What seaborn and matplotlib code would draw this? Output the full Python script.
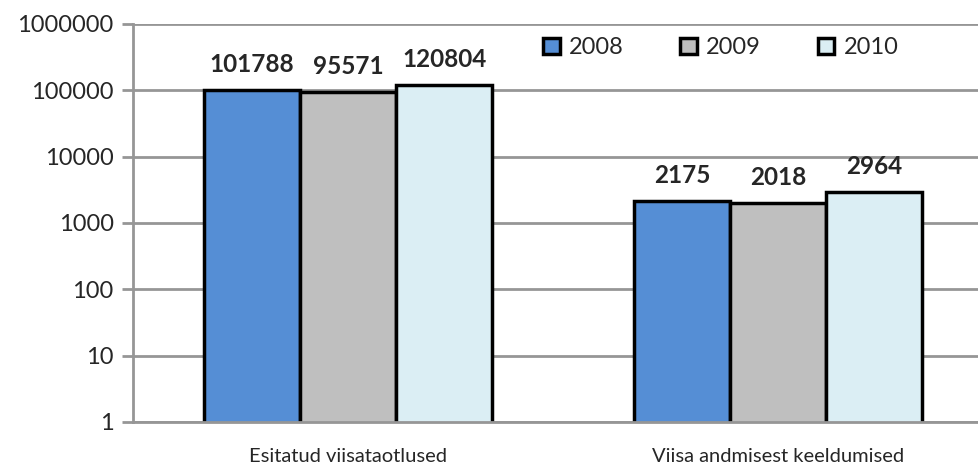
"""
Visa applications vs refusals, 2008-2010 (log scale)
"""

import pandas as pd
import seaborn as sns
import matplotlib.pyplot as plt
from matplotlib.ticker import FuncFormatter, FixedLocator

# data
CATEGORIES = ['Esitatud viisataotlused', 'Viisa andmisest keeldumised']
YEARS = ['2008', '2009', '2010']
VALUES_2008 = [101788, 2175]
VALUES_2009 = [95571, 2018]
VALUES_2010 = [120804, 2964]
COLORS = ['#558ED5', '#BFBFBF', '#DBEEF4']

DATA = pd.DataFrame({
    'category': CATEGORIES * 3,
    'year': [y for y in YEARS for _ in CATEGORIES],
    'value': VALUES_2008 + VALUES_2009 + VALUES_2010,
})

GRAY = '#969696'
sns.set_style('white')
plt.rcParams['font.family'] = ['Lato', 'DejaVu Sans']

fig = plt.figure(figsize=(9.79, 4.75), dpi=100)
# plot area runs past the right edge of the picture, as in the reference
ax = fig.add_axes([0.1359, 0.1116, 0.8784, 0.838])
ax.set_yscale('log')

sns.barplot(data=DATA, x='category', y='value', hue='year',
            palette=COLORS, width=0.67, gap=0, ax=ax,
            edgecolor='black', linewidth=2.5, saturation=1)

ax.set_ylim(1, 1e6)
ax.set_xlim(-0.5, 1.5)
ax.yaxis.set_major_locator(FixedLocator([10 ** i for i in range(7)]))
ax.yaxis.set_minor_locator(FixedLocator([]))
ax.yaxis.set_major_formatter(FuncFormatter(lambda v, p: f'{int(round(v))}'))
ax.grid(axis='y', color=GRAY, linewidth=2)
ax.set_axisbelow(True)

# category boundary ticks
ax.set_xticks([-0.5, 0.5, 1.5], minor=True)
ax.tick_params(axis='x', which='minor', length=8, width=2, color=GRAY, direction='out')
ax.tick_params(axis='x', which='major', length=0, pad=19, labelsize=14.5)
ax.tick_params(axis='y', length=8, width=2, color=GRAY, labelsize=17, left=True, pad=6)

for side in ['top', 'right']:
    ax.spines[side].set_visible(False)
for side in ['left', 'bottom']:
    ax.spines[side].set_color(GRAY)
    ax.spines[side].set_linewidth(2)

for cont in ax.containers:
    ax.bar_label(cont, labels=[f'{int(round(v))}' for v in cont.datavalues],
                 fontsize=17.5, fontweight='bold', padding=10)

ax.set_xlabel('')
ax.set_ylabel('')
ax.legend(loc='center left', bbox_to_anchor=(0.452, 0.94), ncol=3, frameon=False,
          fontsize=17, handlelength=0.7, handleheight=0.7, columnspacing=2.4,
          handletextpad=0.4)

plt.savefig('out.png')
